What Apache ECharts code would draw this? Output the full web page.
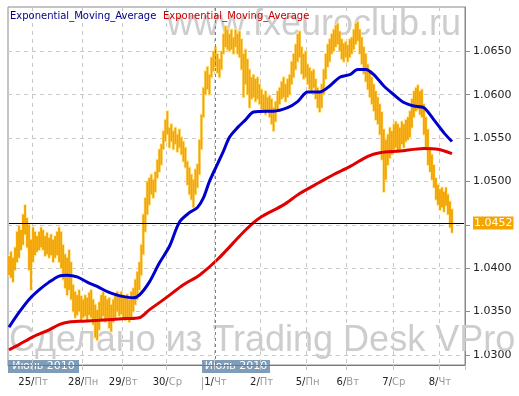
<!DOCTYPE html>
<html><head><meta charset="utf-8">
<script src="https://cdn.jsdelivr.net/npm/echarts@6/dist/echarts.min.js"></script>
<style>html,body{margin:0;padding:0;background:#fff}#c{width:519px;height:396px}</style>
</head><body><div id="c"></div>
<script>
// ---- data ----
const slotCount = 228;                       // hourly slots on the axis (bars + empty right margin)
const dayStarts = [12, 37, 57, 79, 103, 126, 149, 169, 192, 215];
const dayNums   = ['25', '28', '29', '30', '1', '2', '5', '6', '7', '8'];
const dayNames  = ['Пт', 'Пн', 'Вт', 'Ср', 'Чт', 'Пт', 'Пн', 'Вт', 'Ср', 'Чт'];
const monthLabels = ['Июнь 2010', 'Июль 2010'];
const monthStartSlot = 103;
const yTicks = [1.0300, 1.0350, 1.0400, 1.0450, 1.0500, 1.0550, 1.0600, 1.0650];
const yMin = 1.02885, yMax = 1.0701;
const lastPrice = 1.0452;
const seriesNames = ['Exponential_Moving_Average', 'Exponential_Moving_Average'];

const highs = [
1.0414,1.0419,1.0412,1.0424,1.0442,1.0449,1.0444,1.0462,1.0473,1.0458,
1.0450,1.0433,1.0447,1.0442,1.0437,1.0442,1.0447,1.0444,1.0437,1.0441,
1.0435,1.0439,1.0433,1.0437,1.0442,1.0447,1.0442,1.0427,1.0416,1.0412,
1.0421,1.0407,1.0381,1.0373,1.0369,1.0375,1.0368,1.0364,1.0369,1.0366,
1.0372,1.0375,1.0364,1.0358,1.0352,1.0361,1.0369,1.0373,1.0368,1.0364,
1.0366,1.0358,1.0364,1.0369,1.0373,1.0368,1.0373,1.0369,1.0366,1.0370,
1.0364,1.0373,1.0377,1.0387,1.0396,1.0407,1.0427,1.0462,1.0481,1.0500,
1.0504,1.0508,1.0502,1.0511,1.0525,1.0537,1.0543,1.0558,1.0571,1.0581,
1.0562,1.0566,1.0558,1.0562,1.0554,1.0560,1.0551,1.0546,1.0539,1.0523,
1.0516,1.0508,1.0502,1.0514,1.0520,1.0548,1.0577,1.0608,1.0627,1.0632,
1.0623,1.0643,1.0650,1.0655,1.0647,1.0641,1.0650,1.0670,1.0679,1.0675,
1.0670,1.0675,1.0666,1.0675,1.0670,1.0673,1.0664,1.0647,1.0652,1.0641,
1.0629,1.0620,1.0623,1.0618,1.0620,1.0612,1.0606,1.0600,1.0604,1.0597,
1.0599,1.0595,1.0585,1.0592,1.0604,1.0608,1.0615,1.0620,1.0612,1.0618,
1.0623,1.0638,1.0647,1.0658,1.0670,1.0673,1.0655,1.0647,1.0650,1.0635,
1.0631,1.0627,1.0629,1.0618,1.0608,1.0604,1.0612,1.0629,1.0647,1.0658,
1.0664,1.0670,1.0675,1.0680,1.0682,1.0673,1.0664,1.0659,1.0661,1.0657,
1.0664,1.0666,1.0675,1.0682,1.0684,1.0675,1.0666,1.0655,1.0647,1.0635,
1.0627,1.0620,1.0612,1.0604,1.0597,1.0589,1.0580,1.0560,1.0548,1.0554,
1.0562,1.0558,1.0566,1.0569,1.0566,1.0562,1.0569,1.0566,1.0571,1.0574,
1.0581,1.0595,1.0604,1.0608,1.0611,1.0604,1.0606,1.0589,1.0574,1.0560,
1.0539,1.0531,1.0519,1.0504,1.0496,1.0491,1.0493,1.0488,1.0493,1.0485,
1.0477,1.0468
];
const lows = [
1.0392,1.0389,1.0384,1.0398,1.0407,1.0412,1.0421,1.0427,1.0439,1.0424,
1.0398,1.0375,1.0407,1.0415,1.0419,1.0421,1.0424,1.0421,1.0414,1.0416,
1.0412,1.0415,1.0407,1.0412,1.0415,1.0407,1.0400,1.0387,1.0377,1.0369,
1.0375,1.0364,1.0350,1.0343,1.0346,1.0350,1.0340,1.0343,1.0345,1.0340,
1.0346,1.0343,1.0335,1.0320,1.0317,1.0329,1.0340,1.0345,1.0338,1.0340,
1.0331,1.0327,1.0338,1.0343,1.0350,1.0345,1.0347,1.0343,1.0340,1.0343,
1.0338,1.0343,1.0350,1.0358,1.0364,1.0375,1.0392,1.0416,1.0442,1.0462,
1.0473,1.0485,1.0481,1.0488,1.0504,1.0511,1.0519,1.0537,1.0546,1.0554,
1.0539,1.0546,1.0537,1.0543,1.0534,1.0539,1.0531,1.0523,1.0516,1.0496,
1.0485,1.0479,1.0470,1.0485,1.0493,1.0508,1.0537,1.0574,1.0600,1.0606,
1.0600,1.0620,1.0627,1.0632,1.0625,1.0620,1.0629,1.0647,1.0655,1.0652,
1.0650,1.0652,1.0647,1.0655,1.0647,1.0643,1.0629,1.0597,1.0612,1.0600,
1.0585,1.0595,1.0597,1.0592,1.0595,1.0589,1.0583,1.0581,1.0577,1.0581,
1.0574,1.0566,1.0558,1.0569,1.0581,1.0589,1.0595,1.0597,1.0592,1.0597,
1.0600,1.0612,1.0620,1.0629,1.0638,1.0643,1.0624,1.0618,1.0620,1.0612,
1.0606,1.0604,1.0608,1.0595,1.0585,1.0580,1.0585,1.0600,1.0618,1.0632,
1.0638,1.0647,1.0650,1.0655,1.0658,1.0650,1.0641,1.0638,1.0643,1.0638,
1.0643,1.0647,1.0652,1.0658,1.0662,1.0647,1.0635,1.0624,1.0615,1.0606,
1.0597,1.0589,1.0581,1.0571,1.0566,1.0554,1.0525,1.0488,1.0502,1.0519,
1.0527,1.0531,1.0537,1.0539,1.0534,1.0537,1.0543,1.0539,1.0546,1.0548,
1.0551,1.0562,1.0574,1.0581,1.0583,1.0577,1.0574,1.0554,1.0537,1.0519,
1.0511,1.0502,1.0493,1.0479,1.0473,1.0467,1.0470,1.0465,1.0472,1.0462,
1.0447,1.0441
];
// fast EMA (blue), read as [slot, value]
const emaFast = [
[0,1.0332],[5,1.0349],[10,1.0364],[15,1.0375],[20,1.0384],[25,1.0391],[29,1.0392],
[34,1.0390],[39,1.0384],[44,1.0379],[49,1.0373],[54,1.0369],[58,1.0367],[62,1.0366],
[65,1.0369],[70,1.0384],[75,1.0406],[80,1.0425],[85,1.0453],[90,1.0464],[94,1.0470],
[97,1.0481],[100,1.0500],[104,1.0520],[107,1.0535],[110,1.0551],[114,1.0562],[118,1.0571],
[122,1.0580],[129,1.0581],[132,1.0581],[139,1.0585],[144,1.0592],[149,1.0603],[155,1.0603],
[160,1.0610],[165,1.0620],[170,1.0623],[174,1.0629],[178,1.0629],[182,1.0623],[187,1.0610],
[192,1.0600],[197,1.0591],[202,1.0587],[207,1.0585],[212,1.0571],[217,1.0556],[221,1.0546]
];
// slow EMA (red)
const emaSlow = [
[0,1.0306],[5,1.0312],[12,1.0321],[20,1.0329],[25,1.0335],[30,1.0338],[37,1.0339],
[45,1.0340],[58,1.0342],[65,1.0343],[70,1.0352],[79,1.0367],[87,1.0381],[95,1.0392],
[104,1.0410],[118,1.0444],[125,1.0458],[137,1.0473],[145,1.0486],[155,1.0499],[162,1.0508],
[170,1.0517],[179,1.0529],[185,1.0533],[195,1.0535],[207,1.0538],[214,1.0537],[221,1.0532]
];

// ---- build ----
const categories = Array.from({length: slotCount}, (_, i) => String(i));
const barData = highs.map((h, i) => [i, lows[i], h]);
const isDay = (idx) => dayStarts.indexOf(idx) >= 0;
const FONT = '"DejaVu Sans", Verdana, sans-serif';

function barRenderer(width, color, ext) {
  return function (params, api) {
    const i = api.value(0);
    const p1 = api.coord([i, api.value(1)]);
    const p2 = api.coord([i, api.value(2)]);
    return {
      type: 'line',
      shape: {x1: p1[0], y1: p1[1] + ext, x2: p2[0], y2: p2[1] - ext},
      style: {stroke: color, lineWidth: width}
    };
  };
}

const chart = echarts.init(document.getElementById('c'), null, {renderer: 'canvas'});
chart.setOption({
  animation: false,
  backgroundColor: '#ffffff',
  grid: {left: 8, right: 54, top: 7, bottom: 31, show: true, borderColor: '#8a8a8a', borderWidth: 1},
  xAxis: {
    type: 'category', data: categories, boundaryGap: true,
    axisLine: {show: true, lineStyle: {color: '#777'}},
    axisTick: {show: true, interval: isDay, length: 5, lineStyle: {color: '#c4c4c4'}},
    splitLine: {show: true, interval: isDay, lineStyle: {color: '#c8c8c8', type: [4, 4]}},
    axisLabel: {
      interval: isDay, margin: 12,
      formatter: (v) => {
        const k = dayStarts.indexOf(+v);
        return k < 0 ? '' : '{a|' + dayNums[k] + '/}{b|' + dayNames[k] + '}';
      },
      rich: {
        a: {color: '#222', fontSize: 10, fontFamily: FONT},
        b: {color: '#9a9a9a', fontSize: 10, fontFamily: FONT}
      }
    }
  },
  yAxis: {
    type: 'value', position: 'right', min: yMin, max: yMax, scale: true,
    axisLine: {show: true, lineStyle: {color: '#8a8a8a'}},
    axisTick: {show: true, customValues: yTicks, length: 5, lineStyle: {color: '#8a8a8a'}},
    splitLine: {show: true, lineStyle: {color: '#c8c8c8', type: [4, 4]}},
    axisLabel: {customValues: yTicks, margin: 8, color: '#222', fontSize: 11, fontFamily: FONT,
      formatter: (v) => v.toFixed(4)}
  },
  graphic: [
    {type: 'text', x: 167, y: 25, z: 1, silent: true,
      style: {text: 'www.fxeuroclub.ru', font: '36px "Liberation Sans", Arial, sans-serif', fill: '#cdcdcd', verticalAlign: 'middle'}},
    {type: 'text', x: 9, y: 341, z: 1, silent: true,
      style: {text: 'Сделано из Trading Desk VPro', font: '36px "Liberation Sans", Arial, sans-serif', fill: '#cdcdcd', verticalAlign: 'middle'}},
    {type: 'text', x: 10, y: 16, z: 100,
      style: {text: seriesNames[0], font: '10px ' + FONT, fill: '#00008c', verticalAlign: 'middle'}},
    {type: 'text', x: 163, y: 16, z: 100,
      style: {text: seriesNames[1], font: '10px ' + FONT, fill: '#c80000', verticalAlign: 'middle'}},
    {type: 'group', z: 100, children: [
      {type: 'rect', shape: {x: 8, y: 360, width: 71, height: 13}, style: {fill: '#7f9db9'}},
      {type: 'text', x: 43.5, y: 366.5, style: {text: monthLabels[0], font: '11px ' + FONT, fill: '#ffffff', align: 'center', verticalAlign: 'middle'}},
      {type: 'rect', shape: {x: 202, y: 360, width: 68, height: 13}, style: {fill: '#7f9db9'}},
      {type: 'text', x: 236, y: 366.5, style: {text: monthLabels[1], font: '11px ' + FONT, fill: '#ffffff', align: 'center', verticalAlign: 'middle'}},
      {type: 'line', shape: {x1: 202.5, y1: 377, x2: 202.5, y2: 390}, style: {stroke: '#aaaaaa', lineWidth: 1}}
    ]}
  ],
  series: [
    {type: 'custom', name: 'halo', renderItem: barRenderer(3.2, '#ffeaa0', 1), data: barData,
      encode: {x: 0, y: [1, 2]}, z: 2, clip: true},
    {type: 'custom', name: 'bars', renderItem: barRenderer(1.9, '#f5a500', 0), data: barData,
      encode: {x: 0, y: [1, 2]}, z: 3, clip: true},
    {type: 'line', name: seriesNames[1], data: emaSlow, showSymbol: false, smooth: 0.3, z: 4,
      lineStyle: {color: '#e00000', width: 3}, itemStyle: {color: '#e00000'},
      markLine: {
        silent: true, symbol: ['none', 'none'], animation: false,
        data: [
          {xAxis: String(monthStartSlot), lineStyle: {color: '#808080', type: [3, 3], width: 1}, label: {show: false}},
          [
            {xAxis: categories[0], yAxis: lastPrice, lineStyle: {color: '#000000', type: 'solid', width: 1},
              label: {show: true, position: 'end', distance: 9, formatter: lastPrice.toFixed(4),
                color: '#ffffff', backgroundColor: '#f5a500', fontSize: 11, fontFamily: FONT,
                lineHeight: 13, padding: [0, 1, 0, 1]}},
            {xAxis: categories[slotCount - 1], yAxis: lastPrice}
          ]
        ]
      }},
    {type: 'line', name: seriesNames[0], data: emaFast, showSymbol: false, smooth: 0.3, z: 5,
      lineStyle: {color: '#0000cc', width: 3}, itemStyle: {color: '#0000cc'}}
  ]
});
</script></body></html>
